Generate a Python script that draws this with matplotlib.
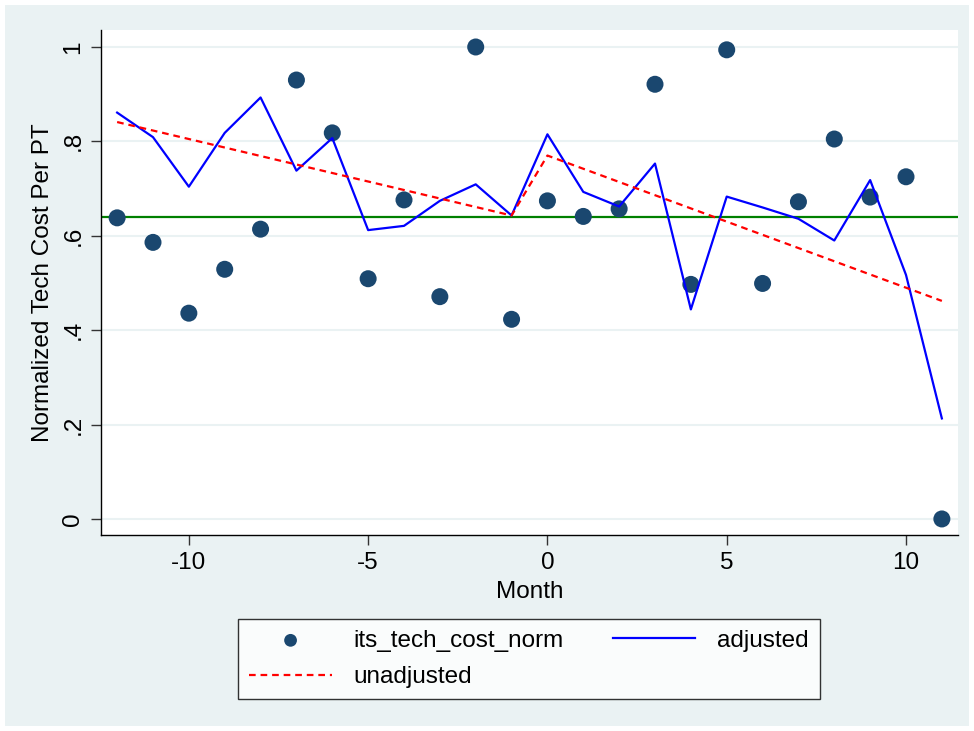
import matplotlib
matplotlib.use("Agg")
import matplotlib.pyplot as plt
from matplotlib.patches import Rectangle

plt.rcParams['font.family'] = ['Liberation Sans', 'DejaVu Sans']
plt.rcParams['axes.unicode_minus'] = False

# data
months = list(range(-12, 12))
cost_norm = [0.638, 0.586, 0.436, 0.529, 0.614, 0.930, 0.818, 0.509, 0.676, 0.471, 1.000, 0.423,
             0.674, 0.641, 0.657, 0.921, 0.497, 0.994, 0.499, 0.672, 0.805, 0.682, 0.725, 0.000]
adjusted = [0.861, 0.809, 0.704, 0.818, 0.893, 0.738, 0.807, 0.612, 0.621, 0.674, 0.709, 0.643,
            0.815, 0.693, 0.662, 0.753, 0.444, 0.683, 0.660, 0.636, 0.590, 0.718, 0.517, 0.213]
unadjusted = [0.841, 0.823, 0.805, 0.787, 0.769, 0.751, 0.733, 0.715, 0.697, 0.679, 0.661, 0.643,
              0.770, 0.742, 0.714, 0.686, 0.658, 0.630, 0.602, 0.574, 0.546, 0.518, 0.490, 0.462]
mean_line = 0.640
yticks = [0, 0.2, 0.4, 0.6, 0.8, 1.0]
ytick_labels = ["0", ".2", ".4", ".6", ".8", "1"]
xticks = [-10, -5, 0, 5, 10]

bg = "#EAF2F3"
fs = 17.5
fig = plt.figure(figsize=(9.74, 7.31), dpi=100, facecolor="white")
fig.patches.append(Rectangle((5 / 974, 5 / 731), 964 / 974, 721 / 731,
                             transform=fig.transFigure, facecolor=bg, edgecolor="none", zorder=-10))

ax = fig.add_axes([101 / 974, 196 / 731, 857 / 974, 505 / 731])
ax.set_facecolor("white")

for t in yticks:
    ax.axhline(t, color=bg, lw=1.5, zorder=0)

sc = ax.scatter(months, cost_norm, s=150, color="#1A476F", zorder=3, label="its_tech_cost_norm",
                edgecolors="none")
l_adj, = ax.plot(months, adjusted, color="blue", lw=1.6, zorder=4, label="adjusted")
l_un, = ax.plot(months, unadjusted, color="red", lw=1.6, ls=(0, (3, 2.2)), zorder=4, label="unadjusted")
ax.axhline(mean_line, color="green", lw=1.6, zorder=2)

ax.set_xlim(-12.45, 11.45)
ax.set_ylim(-0.034, 1.036)
ax.set_yticks(yticks)
ax.set_yticklabels(ytick_labels, rotation=90, va="center")
ax.set_xticks(xticks)
ax.tick_params(labelsize=fs, length=7, width=1, color="#333333", pad=5)

for s in ["top", "right"]:
    ax.spines[s].set_visible(False)
for s in ["left", "bottom"]:
    ax.spines[s].set_color("black")
    ax.spines[s].set_linewidth(1)

ax.set_xlabel("Month", fontsize=fs, labelpad=5)
ax.set_ylabel("Normalized Tech Cost Per PT", fontsize=fs, labelpad=6)

leg = fig.legend([sc, l_un, l_adj], ["its_tech_cost_norm", "unadjusted", "adjusted"],
                 ncol=2, loc="center", bbox_to_anchor=(529 / 974, 72 / 731),
                 fontsize=fs, frameon=True, fancybox=False, handlelength=3.4, markerscale=0.75,
                 columnspacing=2.0, handletextpad=0.9, borderpad=0.45, labelspacing=0.6)
leg.get_frame().set_edgecolor("black")
leg.get_frame().set_linewidth(1)
leg.get_frame().set_facecolor("white")

fig.savefig("out.png", dpi=100, facecolor="white")
